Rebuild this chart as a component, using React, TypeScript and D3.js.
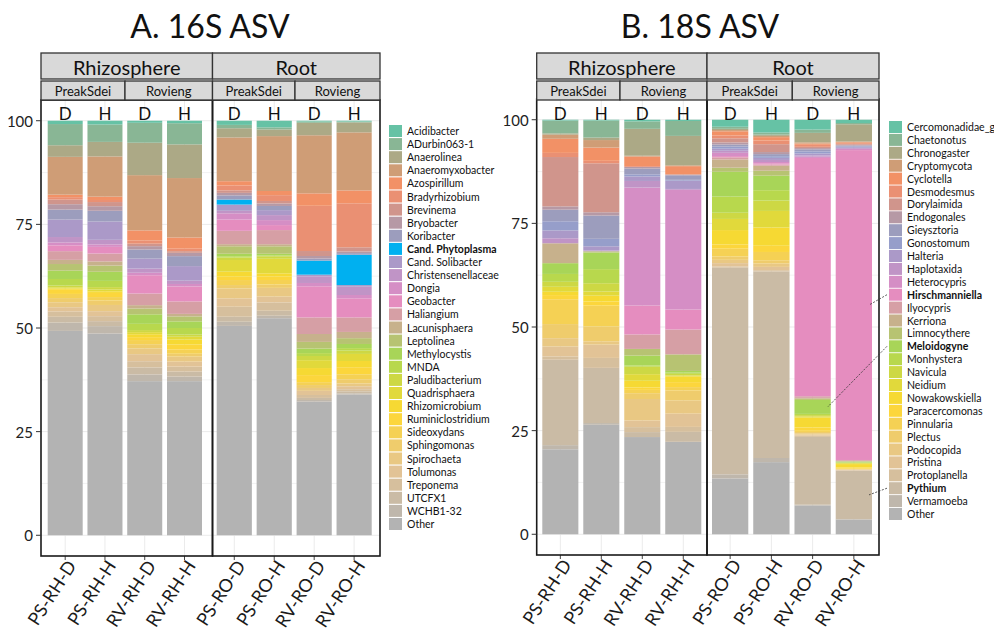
import React from "react";
import * as d3 from "d3";

// samples, facets and ticks
const SAMPLES = ["PS-RH-D", "PS-RH-H", "RV-RH-D", "RV-RH-H", "PS-RO-D", "PS-RO-H", "RV-RO-D", "RV-RO-H"];
const TREATMENTS = ["D", "H", "D", "H", "D", "H", "D", "H"];
const COMPARTMENTS = ["Rhizosphere", "Root"];
const SITES = ["PreakSdei", "Rovieng"];
const Y_TICKS = [0, 25, 50, 75, 100];
const Y_MINOR = [12.5, 37.5, 62.5, 87.5];

// 16S genera (legend order, top of stack first)
const TAXA_16S = [
  "Acidibacter", "ADurbin063-1", "Anaerolinea", "Anaeromyxobacter", "Azospirillum", "Bradyrhizobium",
  "Brevinema", "Bryobacter", "Koribacter", "Cand. Phytoplasma", "Cand. Solibacter", "Christensenellaceae",
  "Dongia", "Geobacter", "Haliangium", "Lacunisphaera", "Leptolinea", "Methylocystis", "MNDA",
  "Paludibacterium", "Quadrisphaera", "Rhizomicrobium", "Ruminiclostridium", "Sideoxydans", "Sphingomonas",
  "Spirochaeta", "Tolumonas", "Treponema", "UTCFX1", "WCHB1-32", "Other",
];
const BOLD_16S = ["Cand. Phytoplasma"];

// relative abundance (%) per sample, same order as TAXA_16S
const A16_PS_RH_D = [0.8, 5.1, 2.8, 9.1, 0.6, 0.6, 1.1, 1.3, 2.4, 0, 4.2, 1.3, 0.7, 1.4, 2.1, 1.0, 1.6, 2.0, 1.6, 0.4, 0.3, 0.3, 1.0, 1.0, 1.0, 1.2, 1.0, 1.3, 1.4, 2.0, 49.2];
const A16_PS_RH_H = [0.9, 4.2, 3.5, 9.7, 0.8, 0.5, 1.0, 1.1, 2.6, 0, 4.4, 1.1, 0.6, 1.6, 1.9, 1.0, 1.5, 2.2, 1.5, 0.6, 0.4, 0.4, 1.0, 0.8, 1.1, 1.5, 1.2, 1.2, 1.2, 1.8, 48.6];
const A16_RV_RH_D = [0.5, 4.8, 7.8, 13.3, 2.4, 0.8, 0.6, 0.8, 2.2, 0, 2.4, 1.0, 0.6, 4.4, 2.8, 0.8, 1.4, 2.3, 1.5, 0.5, 0.5, 0.7, 0.7, 1.0, 1.0, 1.4, 1.7, 1.5, 1.7, 1.6, 37.1];
const A16_RV_RH_H = [0.6, 5.1, 8.1, 14.3, 2.7, 0.6, 0.4, 0.8, 2.4, 0, 3.5, 0.8, 0.6, 3.6, 3.0, 0.6, 1.2, 1.6, 1.6, 0.5, 0.7, 1.2, 1.2, 1.0, 0.7, 1.2, 1.2, 1.2, 1.2, 1.1, 37.1];
const A16_PS_RO_D = [1.0, 0.8, 2.2, 10.5, 1.0, 1.2, 0.6, 0.6, 1.0, 1.2, 1.5, 0.6, 1.5, 2.7, 3.2, 0.5, 1.8, 0.6, 0.3, 0.6, 2.8, 1.2, 0.8, 1.2, 0.8, 2.4, 2.0, 2.4, 1.2, 1.0, 50.2];
const A16_PS_RO_H = [1.6, 0.5, 1.6, 13.2, 1.0, 1.4, 0.6, 0.6, 1.0, 0, 1.2, 1.2, 1.2, 1.2, 3.4, 0.5, 1.8, 0.4, 0.2, 0.6, 3.5, 0.8, 0.8, 1.1, 0.8, 2.1, 1.4, 2.0, 1.2, 0.6, 52.2];
const A16_RV_RO_D = [0.2, 0.3, 3.0, 14.0, 3.0, 10.9, 1.2, 0.6, 0.5, 3.4, 0.4, 1.6, 0.8, 7.5, 4.0, 1.9, 1.6, 1.1, 0.7, 1.0, 1.9, 1.7, 1.7, 0.7, 0.7, 0.7, 1.0, 0.7, 0.5, 0.4, 32.2];
const A16_RV_RO_H = [0.2, 0.2, 2.4, 14.0, 3.1, 10.6, 1.0, 0.4, 0.4, 7.3, 0.4, 2.0, 0.8, 4.6, 3.5, 1.5, 1.4, 1.0, 0.6, 0.8, 1.7, 1.5, 1.7, 1.2, 1.0, 0.7, 0.7, 0.5, 0.5, 0.3, 33.9];

// 18S genera
const TAXA_18S = [
  "Cercomonadidae_gen", "Chaetonotus", "Chronogaster", "Cryptomycota", "Cyclotella", "Desmodesmus",
  "Dorylaimida", "Endogonales", "Gieysztoria", "Gonostomum", "Halteria", "Haplotaxida", "Heterocypris",
  "Hirschmanniella", "Ilyocypris", "Kerriona", "Limnocythere", "Meloidogyne", "Monhystera", "Navicula",
  "Neidium", "Nowakowskiella", "Paracercomonas", "Pinnularia", "Plectus", "Podocopida", "Pristina",
  "Protoplanella", "Pythium", "Vermamoeba", "Other",
];
const BOLD_18S = ["Hirschmanniella", "Meloidogyne", "Pythium"];

const B18_PS_RH_D = [0.2, 3.1, 0.3, 1.0, 3.4, 1.0, 11.9, 0.8, 2.8, 2.2, 1.9, 1.2, 0, 0, 0, 4.8, 0, 2.6, 1.9, 1.2, 1.2, 0.8, 1.0, 6.0, 3.4, 2.0, 2.4, 0.8, 20.6, 1.0, 20.5];
const B18_PS_RH_H = [0.2, 4.1, 0.6, 1.8, 3.2, 0.6, 11.8, 0.8, 5.6, 1.8, 1.0, 0.2, 0, 0, 0, 0, 0.3, 4.0, 3.4, 2.0, 1.0, 1.4, 1.0, 5.0, 3.6, 0.8, 3.2, 2.4, 13.3, 0.4, 26.4];
const B18_RV_RH_D = [0.4, 1.8, 6.5, 0.2, 2.3, 0.2, 0, 0.4, 1.4, 0.5, 1.1, 1.6, 28.5, 7.0, 3.5, 0, 1.6, 2.4, 0.3, 1.8, 1.6, 1.6, 0.6, 0.8, 1.4, 5.2, 1.6, 1.2, 1.2, 0, 23.5];
const B18_RV_RH_H = [0.3, 3.6, 7.1, 0.2, 2.0, 0, 0, 0.2, 1.1, 0.2, 2.0, 0.2, 28.9, 4.8, 6.0, 0, 4.0, 0.4, 0.3, 0.4, 0.2, 1.4, 1.2, 0.8, 2.4, 3.2, 3.2, 1.2, 2.4, 0, 22.3];
const B18_PS_RO_D = [1.7, 0.5, 0.3, 0.3, 1.0, 0.7, 1.0, 0.5, 0.5, 0.5, 0.5, 0.5, 0.8, 0.3, 0.5, 2.0, 1.0, 6.0, 3.9, 1.5, 2.7, 3.5, 1.0, 1.9, 0.8, 0.8, 0.8, 0.3, 50.0, 1.0, 13.5];
const B18_PS_RO_H = [3.1, 0.5, 0.3, 0.3, 0.8, 0.9, 1.9, 0.5, 0.5, 0.4, 0.5, 0.5, 0.3, 0.3, 0.3, 1.2, 1.2, 3.5, 2.5, 2.5, 4.0, 4.4, 1.5, 2.0, 0.8, 0.8, 0.8, 0.3, 45.0, 1.0, 17.4];
const B18_RV_RO_D = [2.4, 0.8, 2.3, 0.3, 0.3, 0.5, 0.3, 0.3, 0.5, 0.5, 0.5, 0.3, 0.3, 58.0, 0.4, 0.2, 0.3, 3.4, 0.3, 0.3, 0.3, 2.4, 0.8, 0.3, 0.3, 0.3, 0.3, 0.3, 16.5, 0.2, 7.0];
const B18_RV_RO_H = [0.8, 0.3, 4.2, 0.2, 0.2, 0.2, 0.2, 0.2, 0.2, 0.2, 0.2, 0.2, 0.3, 75.5, 0.2, 0.1, 0.1, 0.2, 0.1, 0.1, 0.2, 0.8, 0.3, 0.1, 0.1, 0.1, 0.1, 0.1, 11.8, 0.1, 3.6];

// which legend entries get a pointer line to a bar
const CALLOUTS_18S = [
  { taxon: "Hirschmanniella", sample: "RV-RO-H" },
  { taxon: "Meloidogyne", sample: "RV-RO-D" },
  { taxon: "Pythium", sample: "RV-RO-H" },
];

const FONT = "Lato, 'Open Sans', sans-serif";

const ramp = d3.piecewise(d3.interpolateRgb, d3.schemeSet2 as string[]);
function makeColors(taxa: string[], overrides: Record<string, string>) {
  const n = taxa.length;
  return d3.scaleOrdinal<string, string>()
    .domain(taxa)
    .range(taxa.map((t, i) => overrides[t] || d3.color(ramp(i / (n - 1)))!.formatHex()));
}

type Def = {
  title: string;
  titleX: number;
  taxa: string[];
  rows: number[][];
  bold: string[];
  overrides: Record<string, string>;
  left: number;
  split: number;
  right: number;
  siteSplits: number[];
  barSpans: [number, number][];
  yRange: [number, number];
  legendX: number;
  legendY: number;
  legendStep: number;
  callouts: { taxon: string; sample: string }[];
};

function Chart({ def }: { def: Def }) {
  const y = d3.scaleLinear().domain([-5, 105]).range(def.yRange);
  const top = def.yRange[1];
  const bottom = def.yRange[0];
  const color = makeColors(def.taxa, def.overrides);

  const table = SAMPLES.map((s, i) => {
    const total = d3.sum(def.rows[i]);
    const row: any = { sample: s };
    def.taxa.forEach((t, j) => (row[t] = (def.rows[i][j] / total) * 100));
    return row;
  });
  // Other sits at the bottom, first legend entry at the top
  const series = d3.stack<any>().keys([...def.taxa].reverse())(table);

  const xs = COMPARTMENTS.map((c, k) =>
    d3.scaleBand().domain(SAMPLES.slice(k * 4, k * 4 + 4)).range(def.barSpans[k]).paddingInner(0.12)
  );
  const xOf = (s: string) => xs[SAMPLES.indexOf(s) < 4 ? 0 : 1];

  const panels = [
    [def.left, def.split],
    [def.split, def.right],
  ];
  const sites = [
    [def.left, def.siteSplits[0]],
    [def.siteSplits[0], def.split],
    [def.split, def.siteSplits[1]],
    [def.siteSplits[1], def.right],
  ];

  return (
    <g fontFamily={FONT}>
      <text x={def.titleX} y={38} textAnchor="middle" fontSize={32} fill="#111">
        {def.title}
      </text>

      {panels.map(([x0, x1], k) => (
        <g key={"p" + k}>
          <rect x={x0} y={top} width={x1 - x0} height={bottom - top} fill="#fff" />
          {[...Y_TICKS, ...Y_MINOR].map((v) => (
            <line key={v} x1={x0} x2={x1} y1={y(v)} y2={y(v)} stroke="#ebebeb" strokeWidth={Y_TICKS.includes(v) ? 1 : 0.6} />
          ))}
          {xs[k].domain().map((s) => (
            <line key={s} x1={xs[k](s)! + xs[k].bandwidth() / 2} x2={xs[k](s)! + xs[k].bandwidth() / 2} y1={top} y2={bottom} stroke="#ebebeb" />
          ))}
        </g>
      ))}

      {series.map((ser) => (
        <g key={ser.key} fill={color(ser.key)}>
          {ser.map((d) => {
            const xb = xOf(d.data.sample);
            const h = y(d[0]) - y(d[1]);
            if (h <= 0) return null;
            return <rect key={d.data.sample} x={xb(d.data.sample)} y={y(d[1])} width={xb.bandwidth()} height={h} />;
          })}
        </g>
      ))}

      {SAMPLES.map((s, i) => {
        const xb = xOf(s);
        const cx = xb(s)! + xb.bandwidth() / 2;
        return (
          <g key={s}>
            <text x={cx} y={113.5} textAnchor="middle" dominantBaseline="central" fontSize={17} fill="#111">
              {TREATMENTS[i]}
            </text>
            <line x1={cx} x2={cx} y1={bottom} y2={bottom + 4} stroke="#444" />
            <text transform={`translate(${cx + 6},${bottom + 6}) rotate(-57)`} textAnchor="end" dominantBaseline="central" fontSize={18} fill="#1a1a1a">
              {s}
            </text>
          </g>
        );
      })}

      {panels.map(([x0, x1], k) => (
        <rect key={"b" + k} x={x0} y={top} width={x1 - x0} height={bottom - top} fill="none" stroke="#1a1a1a" strokeWidth={1.6} />
      ))}

      {panels.map(([x0, x1], k) => (
        <g key={"s" + k}>
          <rect x={x0} y={53} width={x1 - x0} height={26} fill="#d9d9d9" stroke="#333" strokeWidth={1.3} />
          <text x={(x0 + x1) / 2} y={66.5} textAnchor="middle" dominantBaseline="central" fontSize={20} fill="#111">
            {COMPARTMENTS[k]}
          </text>
        </g>
      ))}
      {sites.map(([x0, x1], k) => (
        <g key={"t" + k}>
          <rect x={x0} y={81} width={x1 - x0} height={19} fill="#d9d9d9" stroke="#333" strokeWidth={1.3} />
          <text x={(x0 + x1) / 2} y={90.5} textAnchor="middle" dominantBaseline="central" fontSize={13} fill="#111">
            {SITES[k % 2]}
          </text>
        </g>
      ))}

      {Y_TICKS.map((v) => (
        <g key={"y" + v}>
          <line x1={def.left - 5} x2={def.left} y1={y(v)} y2={y(v)} stroke="#333" />
          <text x={def.left - 8} y={y(v)} textAnchor="end" dominantBaseline="central" fontSize={15} fill="#222">
            {v}
          </text>
        </g>
      ))}

      {def.taxa.map((t, i) => {
        const cy = def.legendY + i * def.legendStep;
        return (
          <g key={"l" + t}>
            <rect x={def.legendX} y={cy - 6} width={13} height={12} fill={color(t)} />
            <text x={def.legendX + 18} y={cy} dominantBaseline="central" fontSize={10.5} fill="#111" fontWeight={def.bold.includes(t) ? 700 : 400}>
              {t}
            </text>
          </g>
        );
      })}

      {def.callouts.map(({ taxon, sample }) => {
        const ser = series.find((s) => s.key === taxon)!;
        const d = ser[SAMPLES.indexOf(sample)];
        const xb = xOf(sample);
        const ey = (y(d[0]) + y(d[1])) / 2;
        const ex = xb(sample)! + xb.bandwidth() - 3;
        const ly = def.legendY + def.taxa.indexOf(taxon) * def.legendStep;
        return (
          <line key={"c" + taxon} x1={def.legendX - 2} y1={ly} x2={ex} y2={ey} stroke="#333" strokeWidth={0.8} strokeDasharray="2,1.5" />
        );
      })}
    </g>
  );
}

const DEF_A: Def = {
  title: "A. 16S ASV",
  titleX: 210,
  taxa: TAXA_16S,
  rows: [A16_PS_RH_D, A16_PS_RH_H, A16_RV_RH_D, A16_RV_RH_H, A16_PS_RO_D, A16_PS_RO_H, A16_RV_RO_D, A16_RV_RO_H],
  bold: BOLD_16S,
  overrides: { "Cand. Phytoplasma": "#00b0f0" },
  left: 41,
  split: 212.5,
  right: 380,
  siteSplits: [125, 295],
  barSpans: [
    [47.7, 202],
    [216.7, 371.7],
  ],
  yRange: [556, 100],
  legendX: 389,
  legendY: 131,
  legendStep: 13.1,
  callouts: [],
};

const DEF_B: Def = {
  title: "B. 18S ASV",
  titleX: 700,
  taxa: TAXA_18S,
  rows: [B18_PS_RH_D, B18_PS_RH_H, B18_RV_RH_D, B18_RV_RH_H, B18_PS_RO_D, B18_PS_RO_H, B18_RV_RO_D, B18_RV_RO_H],
  bold: BOLD_18S,
  overrides: {},
  left: 536.7,
  split: 707,
  right: 879,
  siteSplits: [620, 792.3],
  barSpans: [
    [542.3, 701.3],
    [712, 872],
  ],
  yRange: [555, 99],
  legendX: 889,
  legendY: 127,
  legendStep: 12.9,
  callouts: CALLOUTS_18S,
};

export default function App() {
  return (
    <div style={{ position: "absolute", left: 0, top: 0 }}>
      <svg width={994} height={629} style={{ display: "block", background: "#fff" }}>
        <Chart def={DEF_A} />
        <Chart def={DEF_B} />
      </svg>
    </div>
  );
}
